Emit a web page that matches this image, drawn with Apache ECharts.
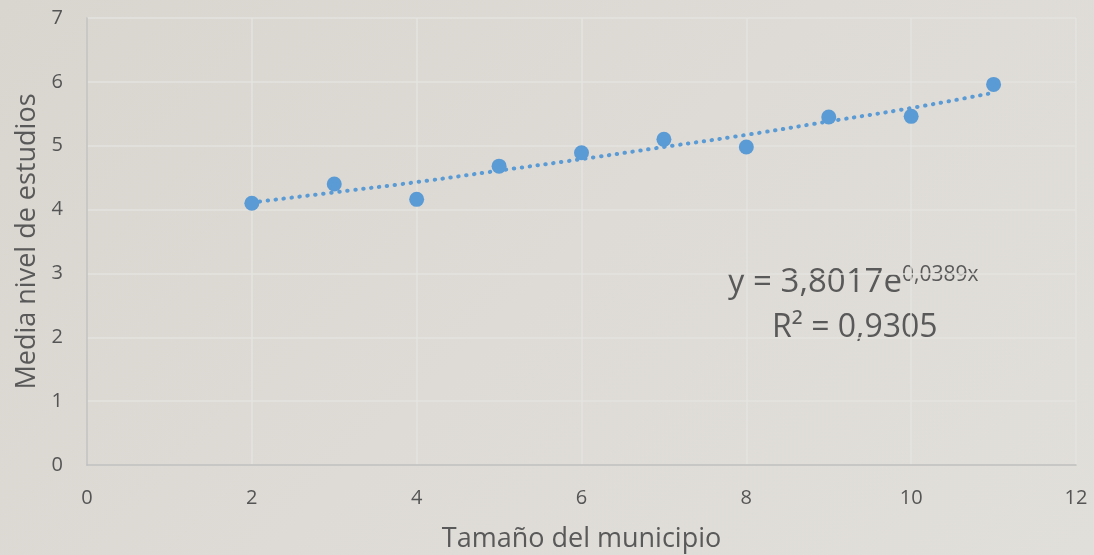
<!DOCTYPE html>
<html>
<head>
<meta charset="utf-8">
<script src="https://cdn.jsdelivr.net/npm/echarts@6/dist/echarts.min.js"></script>
<style>
	html, body { margin: 0; padding: 0; }
	#myChart {
		width: 1094px;
		height: 555px;
		background: linear-gradient(135deg, #d9d6d0 0%, #dedbd6 50%, #e1dfda 100%);
	}
</style>
</head>
<body>
<div id="myChart"></div>
<script>
// datos
var tamano = [2, 3, 4, 5, 6, 7, 8, 9, 10, 11];
var mediaEstudios = [4.10, 4.40, 4.16, 4.68, 4.89, 5.10, 4.98, 5.45, 5.46, 5.96];
// linea de tendencia exponencial
var tendencia = [4.11, 4.27, 4.43, 4.61, 4.79, 4.98, 5.17, 5.38, 5.59, 5.83];
var ecuacion = ['y = 3,8017e', '0,0389x'];
var rCuadrado = 'R² = 0,9305';

var myChart = echarts.init(document.getElementById('myChart'));
var txtColor = '#595959';
var font = '"Open Sans", "Noto Sans", sans-serif';

var option = {
	backgroundColor: 'transparent',
	animation: false,
	textStyle: { fontFamily: font },
	grid: { left: 87, right: 18, top: 18, bottom: 90, outerBoundsMode: 'none', containLabel: false },
	xAxis: {
		type: 'value',
		min: 0, max: 12, interval: 2,
		name: 'Tamaño del municipio',
		nameLocation: 'middle',
		nameGap: 61,
		nameTextStyle: { fontSize: 27, color: txtColor, fontFamily: font },
		axisLine: { show: true, lineStyle: { color: '#bfbfbf', width: 1.5 } },
		axisTick: { show: false },
		axisLabel: { color: '#555555', fontSize: 20, margin: 23, fontFamily: font },
		splitLine: { show: true, lineStyle: { color: '#e5e3df', width: 1.5 } }
	},
	yAxis: {
		type: 'value',
		min: 0, max: 7, interval: 1,
		name: 'Media nivel de estudios',
		nameLocation: 'middle',
		nameGap: 46,
		nameTextStyle: { fontSize: 27, color: txtColor, fontFamily: font },
		axisLine: { show: true, lineStyle: { color: '#bfbfbf', width: 1.5 } },
		axisTick: { show: false },
		axisLabel: { color: '#555555', fontSize: 20, margin: 24, fontFamily: font },
		splitLine: { show: true, lineStyle: { color: '#e5e3df', width: 1.5 } }
	},
	series: [{
		name: 'tendencia',
		type: 'line',
		showSymbol: false,
		smooth: true,
		z: 1,
		lineStyle: { color: '#5b9bd5', width: 4, type: [0.5, 7.5], cap: 'round' },
		data: tamano.map(function (x, i) { return [x, tendencia[i]]; })
	}, {
		name: 'media',
		type: 'scatter',
		symbolSize: 15,
		z: 2,
		itemStyle: { color: '#5b9bd5', opacity: 1 },
		data: tamano.map(function (x, i) { return [x, mediaEstudios[i]]; })
	}],
	graphic: [{
		type: 'text',
		x: 728,
		y: 266,
		style: {
			text: ecuacion[0],
			fill: txtColor,
			font: '33px ' + font
		}
	}, {
		type: 'text',
		x: 902,
		y: 265,
		style: {
			text: ecuacion[1],
			fill: txtColor,
			font: '21px ' + font
		}
	}, {
		type: 'text',
		x: 772,
		y: 312,
		style: {
			text: rCuadrado,
			fill: txtColor,
			font: '32px ' + font
		}
	}]
};
myChart.setOption(option);
</script>
</body>
</html>
